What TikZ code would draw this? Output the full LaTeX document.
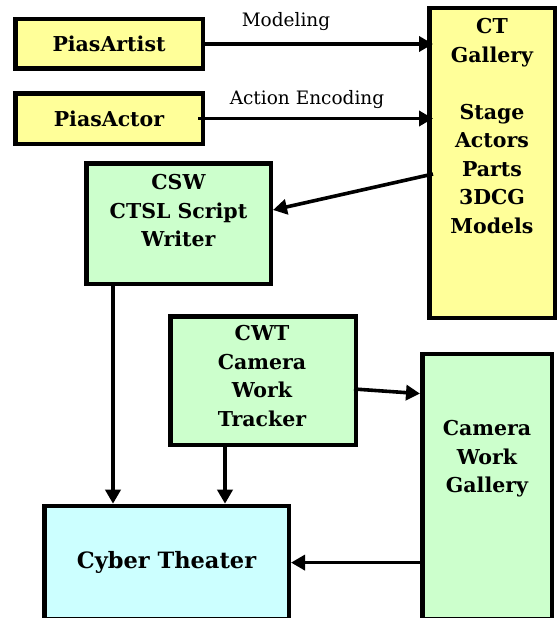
\documentclass[tikz,border=0pt]{standalone}
\usepackage{fontspec}
\setmainfont{DejaVu Serif}
\usetikzlibrary{positioning, arrows.meta}

\definecolor{piasyellow}{HTML}{FFFF99}
\definecolor{toolgreen}{HTML}{CCFFCC}
\definecolor{theatercyan}{HTML}{CCFFFF}

\begin{document}
\begin{tikzpicture}[x=1pt,y=-1pt,
  box/.style={draw, line width=4.5pt, inner sep=0pt},
  boxtext/.style={font=\fontsize{20.5}{28.5}\selectfont\bfseries, align=center, inner sep=0pt},
  flow/.style={line width=3.6pt, -{Triangle[length=14pt,width=15pt]}},
  edgetext/.style={font=\fontsize{18.5}{20}\selectfont, inner sep=0pt}]

\useasboundingbox (0,0) rectangle (558,618);

% Pias tools
\node[box, fill=piasyellow, minimum width=187.5pt, minimum height=49.5pt, boxtext] (artist) at (109,44) {PiasArtist};
\node[box, fill=piasyellow, minimum width=187.5pt, minimum height=50.5pt, boxtext] (actor) at (109,118.5) {PiasActor};

% Galleries
\node[box, fill=piasyellow, minimum width=125.5pt, minimum height=309.5pt] (ctg) at (492,163) {};
\node[boxtext] (ctgtext) at (492,126) {CT\\Gallery\\[28.5pt]Stage\\Actors\\Parts\\3DCG\\Models};
\node[box, fill=toolgreen, minimum width=129.5pt, minimum height=264.75pt] (cwg) at (487,486.6) {};
\node[boxtext] (cwgtext) at (487,459) {Camera\\Work\\Gallery};

% Script writer and tracker
\node[box, fill=toolgreen, minimum width=184.5pt, minimum height=120.5pt] (csw) at (178.5,223.5) {};
\node[boxtext] (cswtext) at (178.5,211) {CSW\\CTSL Script\\Writer};
\node[box, fill=toolgreen, minimum width=185.5pt, minimum height=128.5pt] (cwt) at (263,380.5) {};
\node[boxtext] (cwttext) at (262,376) {CWT\\Camera\\Work\\Tracker};

% Theater
\node[box, fill=theatercyan, minimum width=244.5pt, minimum height=113.25pt, boxtext, font=\fontsize{22.5}{26}\selectfont\bfseries] (cyber) at (166.5,562.6) {Cyber Theater};

% Edge labels
\node[edgetext] (modeling) at (286,22) {Modeling};
\node[edgetext] (encoding) at (307,100) {Action Encoding};

% Flows
\draw[flow] (artist.east) -- ([xshift=6pt]ctg.west |- artist.east);
\draw[flow] ([xshift=-7pt]actor.east) -- ([xshift=6pt]ctg.west |- actor.east);
\draw[flow] ([xshift=6pt,yshift=-11pt]ctg.west) -- ([yshift=13.5pt]csw.east);
\draw[flow] ([xshift=-65.5pt]csw.south) -- ([xshift=-65.5pt]csw.south |- cyber.north);
\draw[flow] ([xshift=-38pt]cwt.south) -- ([xshift=-38pt]cwt.south |- cyber.north);
\draw[flow] ([xshift=-4pt,yshift=-8.5pt]cwt.east) -- ([yshift=93pt]cwg.west);
\draw[flow] (cwg.west |- cyber.east) -- (cyber.east);

\end{tikzpicture}
\end{document}
